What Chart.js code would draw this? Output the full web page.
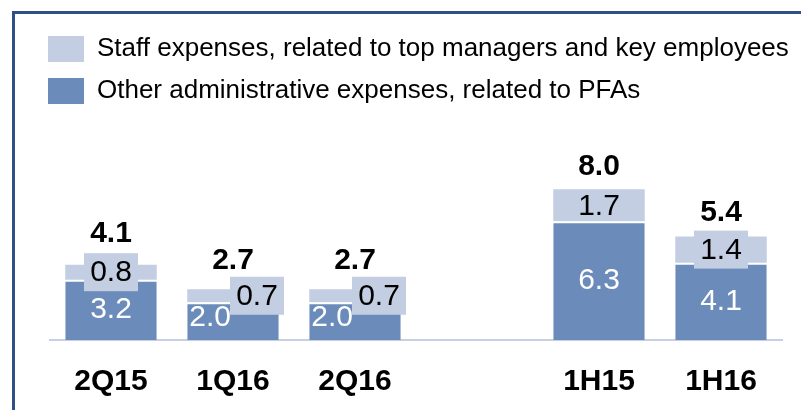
<!DOCTYPE html>
<html>
<head>
<meta charset="utf-8">
<script src="https://cdn.jsdelivr.net/npm/chart.js@4"></script>
<style>
  html, body { margin: 0; padding: 0; background: #fff; }
  #wrap { position: relative; width: 801px; height: 410px; overflow: hidden; }
  #frame { position: absolute; left: 12px; top: 11px; right: -3px; bottom: -3px;
           border-left: 3px solid #2E5086; border-top: 3px solid #2E5086; }
  canvas { position: absolute; left: 0; top: 0; }
</style>
</head>
<body>
<div id="wrap">
  <div id="frame"></div>
  <canvas id="chart" width="801" height="410"></canvas>
</div>
<script>
var categories = ['2Q15', '1Q16', '2Q16', '', '1H15', '1H16'];
var otherAdmin = [3.2, 2.0, 2.0, null, 6.3, 4.1];
var staff = [0.8, 0.7, 0.7, null, 1.7, 1.4];
var totals = [4.1, 2.7, 2.7, null, 8.0, 5.4];
var seriesNames = [
    'Other administrative expenses, related to PFAs',
    'Staff expenses, related to top managers and key employees'
];

var darkColor = '#6B8CBA';
var lightColor = '#C3CEE2';
var fontFamily = '"Liberation Sans", Arial, sans-serif';

// where the value labels sit, per category
var labelLayout = {
    boxed: [true, true, true, false, false, true],
    boxDx: [0, 24, 24, 0, 0, 0],
    darkLeft: [false, true, true, false, false, false],
    totalLift: [31, 28, 28, 0, 23, 24]
};

var valueLabels = {
    id: 'valueLabels',
    afterDatasetsDraw: function (chart) {
        var ctx = chart.ctx;
        var dark = chart.getDatasetMeta(0).data;
        var light = chart.getDatasetMeta(1).data;
        ctx.save();
        ctx.textBaseline = 'middle';

        // values inside the dark segments
        ctx.font = '30px ' + fontFamily;
        ctx.fillStyle = '#fff';
        dark.forEach(function (bar, i) {
            if (otherAdmin[i] == null) return;
            var cy = (bar.y + bar.base) / 2;
            if (labelLayout.darkLeft[i]) {
                ctx.textAlign = 'left';
                ctx.fillText(otherAdmin[i].toFixed(1), bar.x - bar.width / 2 + 2, cy - 3);
            } else {
                ctx.textAlign = 'center';
                ctx.fillText(otherAdmin[i].toFixed(1), bar.x, cy);
            }
        });

        // values of the light segments, some on a box
        ctx.textAlign = 'center';
        light.forEach(function (bar, i) {
            if (staff[i] == null) return;
            var cx = bar.x + labelLayout.boxDx[i];
            var cy = (bar.y + bar.base) / 2;
            if (labelLayout.boxed[i]) {
                ctx.fillStyle = lightColor;
                ctx.fillRect(cx - 27, cy - 19, 54, 38);
            }
            ctx.fillStyle = '#000';
            ctx.fillText(staff[i].toFixed(1), cx, cy + 1);
        });

        // totals above the bars
        ctx.font = 'bold 30px ' + fontFamily;
        light.forEach(function (bar, i) {
            if (totals[i] == null) return;
            ctx.fillText(totals[i].toFixed(1), bar.x, bar.y - labelLayout.totalLift[i]);
        });
        ctx.restore();
    }
};

var ctx = document.getElementById('chart').getContext('2d');

var chart = new Chart(ctx, {
    type: 'bar',
    data: {
        labels: categories,
        datasets: [{
            label: seriesNames[0],
            data: otherAdmin,
            backgroundColor: darkColor,
            borderColor: '#fff',
            borderWidth: { top: 2, right: 0, bottom: 0, left: 0 },
            borderSkipped: false
        }, {
            label: seriesNames[1],
            data: staff,
            backgroundColor: lightColor,
            borderWidth: 0
        }]
    },
    options: {
        responsive: false,
        animation: false,
        events: [],
        datasets: {
            bar: { categoryPercentage: 1, barPercentage: 0.75 }
        },
        layout: {
            padding: { left: 32, right: 0, top: 20, bottom: 0 }
        },
        scales: {
            x: {
                stacked: true,
                grid: { display: false, drawTicks: false },
                border: { display: true, color: '#C5D0E3', width: 2 },
                ticks: {
                    color: '#000',
                    padding: 24,
                    font: { family: fontFamily, size: 30, weight: 'bold' }
                },
                afterFit: function (scale) { scale.height = 70; }
            },
            y: {
                stacked: true,
                min: 0,
                max: 12,
                grid: { display: false, drawTicks: false },
                border: { display: false },
                ticks: { display: false },
                afterFit: function (scale) { scale.width = 18; }
            },
            // empty axis on the right, only to keep space there
            yRight: {
                position: 'right',
                grid: { display: false, drawTicks: false },
                border: { display: false },
                ticks: { display: false },
                afterFit: function (scale) { scale.width = 19; }
            }
        },
        plugins: {
            tooltip: { enabled: false },
            legend: {
                position: 'top',
                align: 'start',
                labels: {
                    boxWidth: 36,
                    boxHeight: 26,
                    padding: 16,
                    color: '#000',
                    font: { family: fontFamily, size: 26 },
                    generateLabels: function () {
                        return [
                            { text: seriesNames[1], fillStyle: lightColor, strokeStyle: lightColor, lineWidth: 0, datasetIndex: 1 },
                            { text: seriesNames[0], fillStyle: darkColor, strokeStyle: darkColor, lineWidth: 0, datasetIndex: 0 }
                        ];
                    }
                }
            }
        }
    },
    plugins: [valueLabels]
});
</script>
</body>
</html>
